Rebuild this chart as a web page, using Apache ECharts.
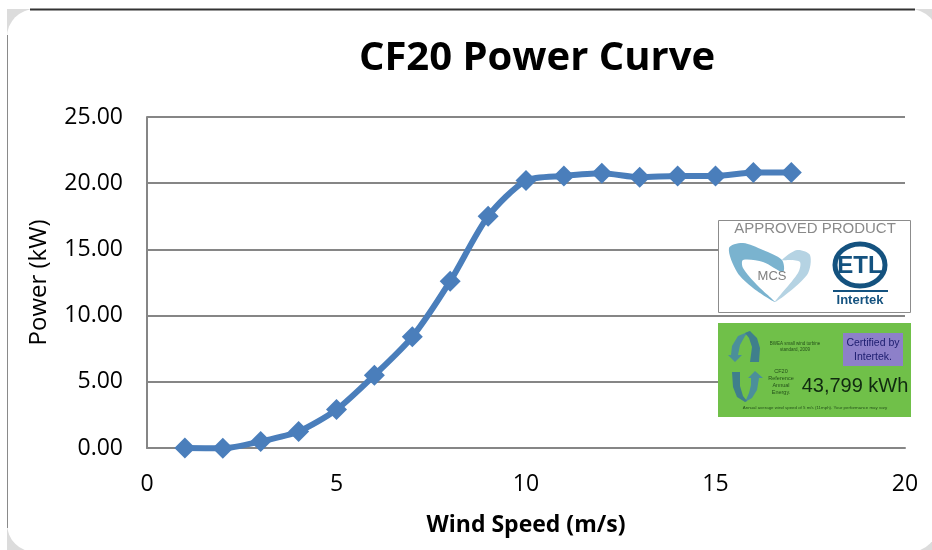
<!DOCTYPE html>
<html>
<head>
<meta charset="utf-8">
<style>
  html, body { margin: 0; padding: 0; background: #fff; }
  #chart { width: 932px; height: 550px; }
</style>
<script src="https://cdn.jsdelivr.net/npm/echarts@6/dist/echarts.min.js"></script>
</head>
<body>
<div id="chart"></div>
<script>
var windSpeed = [1, 2, 3, 4, 5, 6, 7, 8, 9, 10, 11, 12, 13, 14, 15, 16, 17];
var power = [0, -0.02, 0.5, 1.25, 2.9, 5.5, 8.4, 12.6, 17.5, 20.2, 20.55, 20.75, 20.45, 20.55, 20.55, 20.8, 20.8];
var titleText = 'CF20 Power Curve';
var xAxisName = 'Wind Speed (m/s)';
var yAxisName = 'Power (kW)';

var font = '"Open Sans", sans-serif';
var myChart = echarts.init(document.getElementById('chart'));

// small text helper for the two logo boxes
function label(x, y, text, size, color, lineHeight) {
  return {
    type: 'text', z: 11, x: x, y: y,
    style: { text: text, font: size + 'px "Liberation Sans", sans-serif', fill: color, align: 'center', verticalAlign: 'middle', lineHeight: lineHeight }
  };
}
function poly(points, fill, smooth) {
  return { type: 'polygon', z: 11, shape: { points: points, smooth: smooth || 0 }, style: { fill: fill } };
}

var option = {
  animation: false,
  backgroundColor: '#fff',
  title: {
    text: titleText,
    left: 532, top: 34, textAlign: 'center',
    textStyle: { fontFamily: font, fontSize: 40, fontWeight: 'bold', color: '#000' }
  },
  grid: { left: 147, top: 117, width: 758, height: 331 },
  xAxis: {
    type: 'value', min: 0, max: 20, interval: 5,
    name: xAxisName, nameLocation: 'middle', nameGap: 66,
    nameTextStyle: { fontFamily: font, fontSize: 23, fontWeight: 'bold', color: '#000' },
    axisLine: { show: true, onZero: false, lineStyle: { color: '#868686', width: 2 } },
    axisTick: { show: false },
    axisLabel: { fontFamily: font, fontSize: 23, color: '#000', margin: 25 },
    splitLine: { show: false }
  },
  yAxis: {
    type: 'value', min: 0, max: 25, interval: 5,
    name: yAxisName, nameLocation: 'middle', nameGap: 96,
    nameTextStyle: { fontFamily: font, fontSize: 24, color: '#000' },
    axisLine: { show: true, lineStyle: { color: '#868686', width: 2 } },
    axisTick: { show: false },
    axisLabel: {
      fontFamily: font, fontSize: 23, color: '#000', margin: 24, padding: [2, 0, 0, 0],
      formatter: function (v) { return v.toFixed(2); }
    },
    splitLine: { show: true, lineStyle: { color: '#868686', width: 2 } }
  },
  series: [{
    type: 'line',
    data: windSpeed.map(function (x, i) { return [x, power[i]]; }),
    smooth: 0.25,
    symbol: 'diamond',
    symbolSize: 21,
    clip: false,
    lineStyle: { color: '#4a7ebb', width: 6 },
    itemStyle: { color: '#4a7ebb' }
  }],
  graphic: { elements: [
    // chart panel with gray corners
    { type: 'rect', z: -3, shape: { x: 7, y: 9, width: 32, height: 32 }, style: { fill: '#dcdcdc' } },
    { type: 'rect', z: -3, shape: { x: 7, y: 522, width: 32, height: 28 }, style: { fill: '#dcdcdc' } },
    { type: 'rect', z: -3, shape: { x: 900, y: 9, width: 32, height: 32 }, style: { fill: '#dcdcdc' } },
    { type: 'rect', z: -3, shape: { x: 900, y: 522, width: 32, height: 28 }, style: { fill: '#dcdcdc' } },
    { type: 'rect', z: -2, shape: { x: 7, y: 9, width: 931, height: 543, r: 28 }, style: { fill: '#fff' } },
    { type: 'line', z: -1, shape: { x1: 7.5, y1: 35, x2: 7.5, y2: 528 }, style: { stroke: '#8a8a8a', lineWidth: 1 } },
    { type: 'line', z: -1, shape: { x1: 30, y1: 9.5, x2: 915, y2: 9.5 }, style: { stroke: '#333', lineWidth: 2 } },

    // approved product box
    { type: 'rect', z: 10, shape: { x: 718.5, y: 220.5, width: 192, height: 92 }, style: { fill: '#fff', stroke: '#8c8c8c', lineWidth: 1 } },
    label(815, 229, 'APPROVED PRODUCT', 15, '#8a8a8a'),
    poly([[729, 248], [743, 243], [763, 250], [782, 260], [783, 272], [763, 262], [743, 260], [743, 268], [757, 285], [775, 302], [753, 288], [737, 272]], '#7ab3cf', 0.3),
    poly([[782, 260], [797, 250], [810, 255], [807, 275], [775, 302], [798, 273], [800, 262], [790, 260]], '#b5d3e3', 0.3),
    label(772, 276, 'MCS', 13, '#7f7f7f'),
    { type: 'ellipse', z: 11, shape: { cx: 860, cy: 265, rx: 25, ry: 21 }, style: { fill: '#fff', stroke: '#14527f', lineWidth: 5 } },
    { type: 'text', z: 11, x: 860, y: 266, style: { text: 'ETL', font: 'bold 24px "Liberation Sans Narrow", "Liberation Sans", sans-serif', fill: '#14527f', align: 'center', verticalAlign: 'middle' } },
    { type: 'line', z: 11, shape: { x1: 833, y1: 291, x2: 888, y2: 291 }, style: { stroke: '#14527f', lineWidth: 2 } },
    { type: 'text', z: 11, x: 860, y: 300, style: { text: 'Intertek', font: 'bold 13px "Liberation Sans", sans-serif', fill: '#14527f', align: 'center', verticalAlign: 'middle' } },

    // reference energy box
    { type: 'rect', z: 10, shape: { x: 718, y: 323, width: 193, height: 94 }, style: { fill: '#70c049' } },
    poly([[750, 331], [738, 336], [732, 346], [731, 355], [728, 355], [735, 362], [742, 355], [738, 355], [740, 345], [745, 336]], '#4b8f9a'),
    poly([[750, 331], [757, 338], [760, 348], [759, 362], [750, 362], [752, 347], [749, 338], [745, 333]], '#3f7f8c'),
    poly([[755, 371], [763, 378], [759, 378], [757, 390], [752, 398], [745, 402], [749, 393], [751, 385], [751, 378], [748, 378]], '#4b8f9a'),
    poly([[732, 372], [740, 372], [740, 386], [743, 396], [747, 401], [745, 402], [737, 397], [733, 387]], '#3f7f8c'),
    label(795, 347, 'BWEA small wind turbine\nstandard, 2009', 4.5, '#24501a', 6),
    label(781, 382, 'CF20\nReference\nAnnual\nEnergy.', 5.5, '#24501a', 7),
    { type: 'rect', z: 11, shape: { x: 843, y: 333, width: 60, height: 33 }, style: { fill: '#8d80c9' } },
    label(873, 350, 'Certified by\nIntertek.', 10.5, '#1c1c6e', 14),
    label(855, 386, '43,799 kWh', 20, '#102a10'),
    label(815, 408, 'Annual average wind speed of 5 m/s (11mph). Your performance may vary', 4.4, '#24501a')
  ] }
};

option && myChart.setOption(option);
</script>
</body>
</html>
